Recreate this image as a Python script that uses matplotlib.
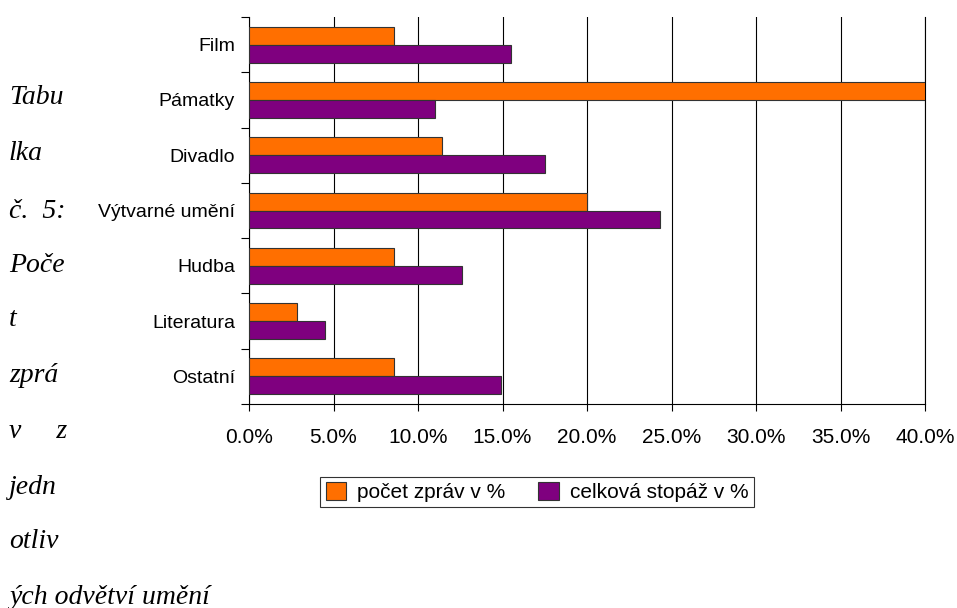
import numpy as np
import matplotlib.pyplot as plt
from matplotlib.ticker import PercentFormatter

categories = ['Film', 'Pámatky', 'Divadlo', 'Výtvarné umění', 'Hudba', 'Literatura', 'Ostatní']
pocet = [8.57, 40.0, 11.43, 20.0, 8.57, 2.86, 8.57]
stopaz = [15.5, 11.0, 17.5, 24.3, 12.6, 4.5, 14.9]
series_names = ['počet zpráv v %', 'celková stopáž v %']
caption = ['Tabu', 'lka', 'č.  5:', 'Poče', 't', 'zprá', 'v     z', 'jedn', 'otliv', 'ých odvětví umění']

fig = plt.figure(figsize=(9.57, 6.08), dpi=100)
ax = fig.add_axes([249 / 957, 1 - 404 / 608, 676 / 957, 387 / 608])

y = np.arange(len(categories))
h = 0.325
ax.barh(y - h / 2, pocet, h, color='#ff6f00', edgecolor='#333333', linewidth=0.8,
        label=series_names[0], zorder=3)
ax.barh(y + h / 2, stopaz, h, color='#7f007f', edgecolor='#333333', linewidth=0.8,
        label=series_names[1], zorder=3)

ax.set_ylim(len(categories) - 0.5, -0.5)
ax.set_xlim(0, 40)
ax.set_xticks(np.arange(0, 41, 5))
ax.xaxis.set_major_formatter(PercentFormatter(decimals=1))
ax.set_yticks(np.arange(len(categories) + 1) - 0.5)
ax.set_yticklabels([])
ax.set_yticks(y, minor=True)
ax.set_yticklabels(categories, minor=True, fontsize=14, fontfamily='Liberation Sans')
ax.tick_params(axis='y', which='minor', length=0, pad=10)
ax.tick_params(axis='y', which='major', length=6, direction='out')
ax.tick_params(axis='x', length=5, pad=12, labelsize=15)
for t in ax.get_xticklabels():
    t.set_fontfamily('Liberation Sans')
ax.grid(axis='x', color='black', linewidth=0.8, zorder=0)
ax.spines['top'].set_visible(False)
ax.spines['right'].set_linewidth(0.8)

leg = fig.legend(loc='center', bbox_to_anchor=(537 / 957, 1 - 492 / 608), ncol=2,
                 prop={'family': 'Liberation Sans', 'size': 15}, frameon=True,
                 fancybox=False, edgecolor='black', handlelength=1.0, handleheight=1.0,
                 columnspacing=1.6, handletextpad=0.5, borderpad=0.25)
leg.get_frame().set_linewidth(0.8)

ys = [98, 153, 212, 265, 320, 375, 431, 487, 542, 597]
for txt, yy in zip(caption, ys):
    fig.text(9 / 957, 1 - yy / 608, txt, fontsize=20, family='Liberation Serif',
             style='italic', va='center', ha='left')

fig.savefig('out.png', dpi=100)
